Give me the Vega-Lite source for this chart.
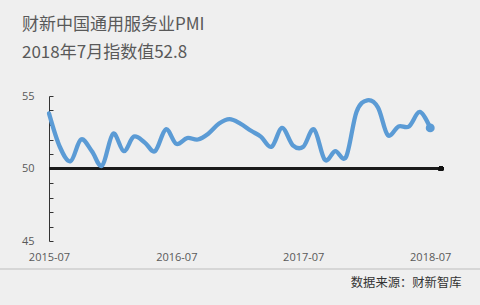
{
  "$schema": "https://vega.github.io/schema/vega-lite/v6.json",
  "width": 392,
  "height": 145,
  "autosize": {"type": "none"},
  "padding": {"left": 49, "top": 96, "right": 39, "bottom": 64},
  "background": "#efefef",
  "config": {
    "view": {"stroke": null},
    "font": "Open Sans"
  },
  "title": {
    "text": ["财新中国通用服务业PMI", "2018年7月指数值52.8"],
    "anchor": "start",
    "frame": "group",
    "dx": -27,
    "offset": 28,
    "font": "Noto Sans CJK SC",
    "fontSize": 17,
    "fontWeight": "normal",
    "color": "#595959",
    "lineHeight": 28
  },
  "data": {
    "values": [
      {"month": "2015-07-01", "pmi": 53.8},
      {"month": "2015-08-01", "pmi": 51.5},
      {"month": "2015-09-01", "pmi": 50.5},
      {"month": "2015-10-01", "pmi": 52.0},
      {"month": "2015-11-01", "pmi": 51.2},
      {"month": "2015-12-01", "pmi": 50.2},
      {"month": "2016-01-01", "pmi": 52.4},
      {"month": "2016-02-01", "pmi": 51.2},
      {"month": "2016-03-01", "pmi": 52.2},
      {"month": "2016-04-01", "pmi": 51.8},
      {"month": "2016-05-01", "pmi": 51.2},
      {"month": "2016-06-01", "pmi": 52.7},
      {"month": "2016-07-01", "pmi": 51.7},
      {"month": "2016-08-01", "pmi": 52.1},
      {"month": "2016-09-01", "pmi": 52.0},
      {"month": "2016-10-01", "pmi": 52.4},
      {"month": "2016-11-01", "pmi": 53.1},
      {"month": "2016-12-01", "pmi": 53.4},
      {"month": "2017-01-01", "pmi": 53.1},
      {"month": "2017-02-01", "pmi": 52.6},
      {"month": "2017-03-01", "pmi": 52.2},
      {"month": "2017-04-01", "pmi": 51.5},
      {"month": "2017-05-01", "pmi": 52.8},
      {"month": "2017-06-01", "pmi": 51.6},
      {"month": "2017-07-01", "pmi": 51.5},
      {"month": "2017-08-01", "pmi": 52.7},
      {"month": "2017-09-01", "pmi": 50.6},
      {"month": "2017-10-01", "pmi": 51.2},
      {"month": "2017-11-01", "pmi": 50.8},
      {"month": "2017-12-01", "pmi": 53.9},
      {"month": "2018-01-01", "pmi": 54.7},
      {"month": "2018-02-01", "pmi": 54.2},
      {"month": "2018-03-01", "pmi": 52.3},
      {"month": "2018-04-01", "pmi": 52.9},
      {"month": "2018-05-01", "pmi": 52.9},
      {"month": "2018-06-01", "pmi": 53.9},
      {"month": "2018-07-01", "pmi": 52.8}
    ]
  },
  "resolve": {"axis": {"x": "independent", "y": "independent"}},
  "layer": [
    {
      "mark": {"type": "rule", "stroke": "#d6d6d6", "strokeWidth": 1},
      "encoding": {
        "x": {"datum": {"year": 2015, "month": 2, "date": 10, "utc": true}, "type": "temporal", "axis": null},
        "x2": {"datum": {"year": 2018, "month": 11, "date": 22, "utc": true}},
        "y": {"datum": 43.07, "type": "quantitative", "axis": null}
      }
    },
    {
      "mark": {"type": "rule", "stroke": "#1a1a1a", "strokeWidth": 1.8},
      "encoding": {
        "x": {"datum": {"year": 2015, "month": 7, "date": 1, "utc": true}, "type": "temporal", "axis": null},
        "x2": {"datum": {"year": 2018, "month": 8, "date": 1, "utc": true}},
        "y": {"datum": 50, "type": "quantitative", "axis": null}
      }
    },
    {
      "mark": {"type": "circle", "color": "#111111", "size": 26, "opacity": 1},
      "encoding": {
        "x": {"datum": {"year": 2018, "month": 8, "date": 1, "utc": true}, "type": "temporal", "axis": null},
        "y": {"datum": 50, "type": "quantitative", "axis": null}
      }
    },
    {
      "mark": {"type": "line", "interpolate": "cardinal", "stroke": "#5b9bd5", "strokeWidth": 4.3, "strokeCap": "round", "strokeJoin": "round"},
      "encoding": {
        "x": {
          "field": "month",
          "type": "temporal",
          "scale": {"type": "utc", "domain": [{"year": 2015, "month": 7, "date": 1, "utc": true}, {"year": 2018, "month": 8, "date": 1, "utc": true}]},
          "axis": {
            "values": [
              {"year": 2015, "month": 7, "date": 1, "utc": true},
              {"year": 2016, "month": 7, "date": 1, "utc": true},
              {"year": 2017, "month": 7, "date": 1, "utc": true},
              {"year": 2018, "month": 7, "date": 1, "utc": true}
            ],
            "labelExpr": "utcFormat(datum.value, '%Y-%m')",
            "domain": false,
            "ticks": false,
            "grid": false,
            "labelFont": "Open Sans",
            "labelFontSize": 11,
            "labelColor": "#595959",
            "labelPadding": 10,
            "labelFlush": false,
            "labelOverlap": false,
            "title": "数据来源：财新智库",
            "titleFont": "Noto Sans CJK SC",
            "titleFontSize": 12.3,
            "titleFontWeight": "normal",
            "titleColor": "#333333",
            "titleAnchor": "end",
            "titleAlign": "right",
            "titleBaseline": "alphabetic",
            "titleX": 412,
            "titleY": 45
          }
        },
        "y": {
          "field": "pmi",
          "type": "quantitative",
          "scale": {"domain": [45, 55], "nice": false, "zero": false},
          "axis": {
            "values": [45, 46, 47, 48, 49, 50, 51, 52, 53, 54, 55],
            "labelExpr": "datum.value % 5 === 0 ? datum.label : ''",
            "grid": false,
            "domainColor": "#333333",
            "domainWidth": 1,
            "tickColor": "#333333",
            "tickSize": -4,
            "tickWidth": 1,
            "labelFont": "Open Sans",
            "labelFontSize": 11,
            "labelColor": "#595959",
            "labelPadding": 19,
            "labelOverlap": false,
            "title": null
          }
        }
      }
    },
    {
      "transform": [{"filter": "utcyear(datum.month) === 2018 && utcmonth(datum.month) === 6"}],
      "mark": {"type": "circle", "color": "#5b9bd5", "size": 80, "opacity": 1},
      "encoding": {
        "x": {"field": "month", "type": "temporal", "axis": null},
        "y": {"field": "pmi", "type": "quantitative", "axis": null}
      }
    }
  ]
}
